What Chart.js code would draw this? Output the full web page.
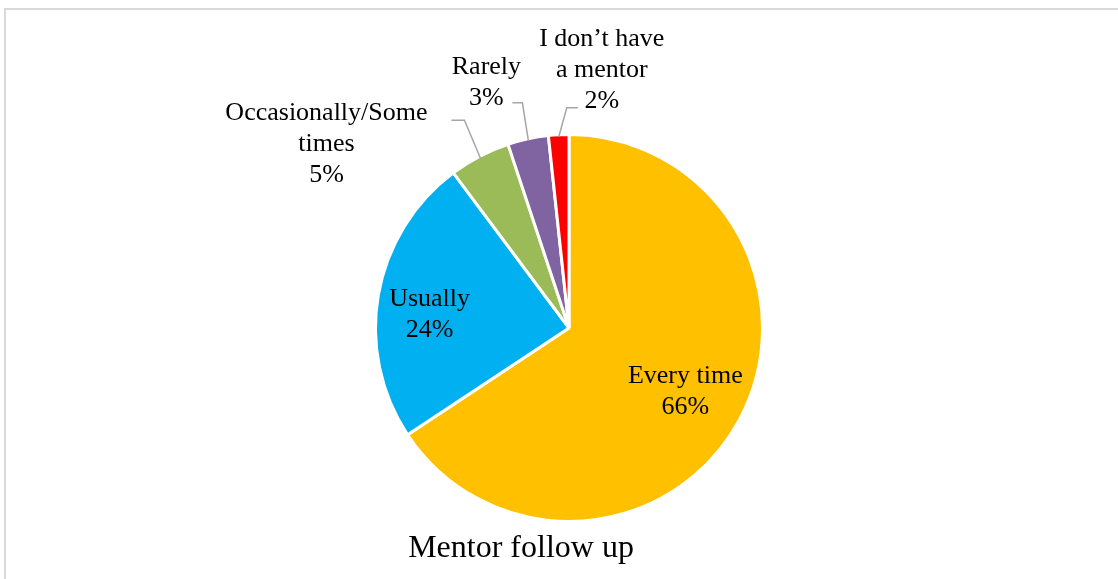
<!DOCTYPE html>
<html>
<head>
<meta charset="utf-8">
<script src="https://cdn.jsdelivr.net/npm/chart.js@4.4.0/dist/chart.umd.min.js"></script>
<style>
  html, body { margin: 0; padding: 0; background: #fff; }
  #wrap { position: relative; width: 1118px; height: 579px; }
</style>
</head>
<body>
<div id="wrap"><canvas id="pieChart" width="1118" height="579"></canvas></div>
<script>
// Mentor follow up - share of answers (%)
const categories = ["Every time", "Usually", "Occasionally/Some times", "Rarely", "I don\u2019t have a mentor"];
const shares = [65.7, 24.1, 5.1, 3.4, 1.7];
const sliceColors = ["#FFC000", "#00B0F0", "#9BBB59", "#8064A2", "#FF0000"];
const chartTitle = "Mentor follow up";

// how each label is wrapped, and where it sits (inside the slice or out with a leader line)
const labelLines = [["Every time"], ["Usually"], ["Occasionally/Some", "times"], ["Rarely"], ["I don\u2019t have", "a mentor"]];
const labelPlacement = [
  { inside: true, dx: -3, dy: 0 },
  { inside: true, dx: -6, dy: 10 },
  { inside: false, elbow: [-16, -38], tail: -13, text: [-154, -14] },
  { inside: false, elbow: [-6, -38], tail: -10, text: [-42, -58] },
  { inside: false, elbow: [8, -29], tail: 11, text: [43, -67] },
];

const FONT = "26px 'Liberation Serif', 'Times New Roman', serif";
const LINE_H = 31;

const sliceLabels = {
  id: "sliceLabels",
  beforeDraw(chart) {
    const ctx = chart.ctx;
    ctx.save();
    ctx.strokeStyle = "#d9d9d9";
    ctx.lineWidth = 2;
    ctx.strokeRect(5, 9, 1200, 700);
    ctx.restore();
  },
  afterDraw(chart) {
    const ctx = chart.ctx;
    const arcs = chart.getDatasetMeta(0).data;
    const total = shares.reduce((a, b) => a + b, 0);
    ctx.save();
    ctx.font = FONT;
    ctx.fillStyle = "#000";
    ctx.textAlign = "center";
    ctx.textBaseline = "middle";
    arcs.forEach((arc, i) => {
      const p = arc.getProps(["x", "y", "startAngle", "endAngle", "outerRadius"], true);
      const mid = (p.startAngle + p.endAngle) / 2;
      const pct = Math.round(shares[i] / total * 100) + "%";
      const lines = labelLines[i].concat([pct]);
      const place = labelPlacement[i];
      let cx, cy;
      if (place.inside) {
        const r = p.outerRadius * 0.7;
        cx = p.x + Math.cos(mid) * r + place.dx;
        cy = p.y + Math.sin(mid) * r + place.dy;
      } else {
        const ax = p.x + Math.cos(mid) * (p.outerRadius - 2);
        const ay = p.y + Math.sin(mid) * (p.outerRadius - 2);
        const ex = ax + place.elbow[0];
        const ey = ay + place.elbow[1];
        ctx.strokeStyle = "#a6a6a6";
        ctx.lineWidth = 1.5;
        ctx.beginPath();
        ctx.moveTo(ax, ay);
        ctx.lineTo(ex, ey);
        ctx.lineTo(ex + place.tail, ey);
        ctx.stroke();
        cx = ax + place.text[0];
        cy = ay + place.text[1];
      }
      const top = cy - (lines.length - 1) * LINE_H / 2;
      lines.forEach((t, k) => ctx.fillText(t, cx, top + k * LINE_H));
    });
    ctx.font = "32px 'Liberation Serif', 'Times New Roman', serif";
    ctx.fillText(chartTitle, 521, 549);
    ctx.restore();
  },
};

new Chart(document.getElementById("pieChart"), {
  type: "pie",
  data: {
    labels: categories,
    datasets: [{
      data: shares,
      backgroundColor: sliceColors,
      borderColor: "#ffffff",
      borderWidth: 3,
    }],
  },
  options: {
    responsive: false,
    animation: false,
    layout: { padding: { top: 133, bottom: 56, left: 374, right: 354 } },
    plugins: {
      legend: { display: false },
      title: { display: false },
      tooltip: { enabled: false },
    },
  },
  plugins: [sliceLabels],
});
</script>
</body>
</html>
